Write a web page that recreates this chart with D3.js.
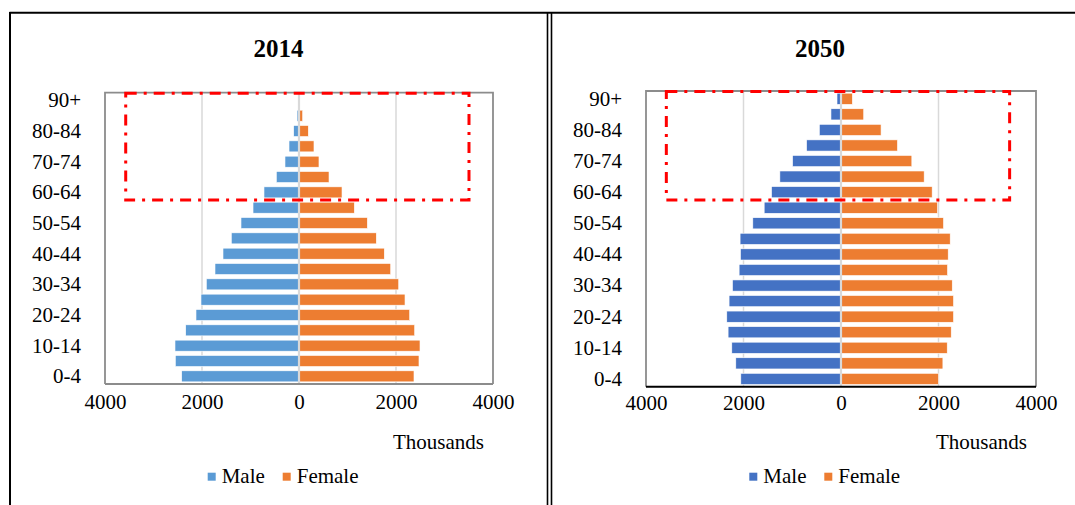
<!DOCTYPE html>
<html>
<head>
<meta charset="utf-8">
<script src="https://cdn.jsdelivr.net/npm/d3@7"></script>
<style>
  html, body { margin: 0; padding: 0; background: #fff; }
  svg { display: block; font-family: "Liberation Serif", "Times New Roman", serif; }
</style>
</head>
<body>
<svg id="chart" width="1075" height="505"></svg>
<script>
// Age groups, youngest first
const ageGroups = ["0-4","5-9","10-14","15-19","20-24","25-29","30-34","35-39","40-44",
  "45-49","50-54","55-59","60-64","65-69","70-74","75-79","80-84","85-89","90+"];

// Population in thousands
const male2014   = [2419,2550,2557,2336,2124,2021,1911,1732,1567,1396,1196,948,722,468,289,206,110,40,8];
const female2014 = [2371,2474,2495,2385,2282,2186,2056,1891,1759,1594,1409,1141,887,619,412,309,192,76,15];
const male2050   = [2055,2158,2240,2316,2343,2296,2226,2090,2062,2070,1809,1576,1425,1254,993,706,445,206,82];
const female2050 = [2000,2090,2179,2261,2308,2308,2282,2185,2199,2240,2103,1980,1870,1706,1453,1158,822,466,233];

const xTicks = [-4000, -2000, 0, 2000, 4000];
const yLabelGroups = ageGroups.filter((d, i) => i % 2 === 0);
const seriesNames = ["Male", "Female"];
const unitLabel = "Thousands";

const svg = d3.select("#chart");
const FONT = 21;
const SERIF = "Liberation Serif, Times New Roman, serif";

// Outer document frame
const frame = svg.append("g").attr("stroke", "#000").attr("fill", "none");
frame.append("line").attr("x1", 9.5).attr("x2", 1075).attr("y1", 12.8).attr("y2", 12.8).attr("stroke-width", 2);
frame.append("line").attr("x1", 10).attr("x2", 10).attr("y1", 12).attr("y2", 505).attr("stroke-width", 2);
frame.append("line").attr("x1", 547.5).attr("x2", 547.5).attr("y1", 12).attr("y2", 505).attr("stroke-width", 1.6);
frame.append("line").attr("x1", 551.5).attr("x2", 551.5).attr("y1", 12).attr("y2", 505).attr("stroke-width", 1.6);

function pyramid(cfg) {
  const g = svg.append("g");
  const x = d3.scaleLinear().domain([-4000, 4000]).range([cfg.left, cfg.right]);
  const y = d3.scaleBand().domain(ageGroups.slice().reverse()).range([cfg.top, cfg.bottom]).paddingInner(0).paddingOuter(0);
  const barH = y.bandwidth() * 0.72;
  const off = (y.bandwidth() - barH) / 2;

  // Title
  g.append("text").attr("x", cfg.titleX).attr("y", 57).attr("text-anchor", "middle")
    .attr("font-size", 25).attr("font-weight", "bold").attr("fill", "#000").text(cfg.title);

  // Vertical gridlines
  g.append("g").selectAll("line").data(xTicks.filter(t => t !== 0 && Math.abs(t) < 4000)).join("line")
    .attr("x1", d => x(d)).attr("x2", d => x(d))
    .attr("y1", cfg.top).attr("y2", cfg.bottom)
    .attr("stroke", "#d9d9d9").attr("stroke-width", 1.5);

  // Male bars (left)
  g.append("g").selectAll("rect").data(ageGroups.map((a, i) => ({a, v: cfg.male[i]}))).join("rect")
    .attr("x", d => x(-d.v)).attr("width", d => x(0) - x(-d.v))
    .attr("y", d => y(d.a) + off).attr("height", barH)
    .attr("fill", cfg.maleColor).attr("stroke", "#fff").attr("stroke-width", 0.6);

  // Female bars (right)
  g.append("g").selectAll("rect").data(ageGroups.map((a, i) => ({a, v: cfg.female[i]}))).join("rect")
    .attr("x", x(0)).attr("width", d => x(d.v) - x(0))
    .attr("y", d => y(d.a) + off).attr("height", barH)
    .attr("fill", cfg.femaleColor).attr("stroke", "#fff").attr("stroke-width", 0.6);

  // Zero line
  g.append("line").attr("x1", x(0)).attr("x2", x(0)).attr("y1", cfg.top).attr("y2", cfg.bottom)
    .attr("stroke", "#d9d9d9").attr("stroke-width", 2.2);

  // Plot area border
  const border = g.append("g").attr("fill", "none");
  border.append("path")
    .attr("d", `M${cfg.left},${cfg.bottom}V${cfg.top}H${cfg.right}V${cfg.bottom}`)
    .attr("stroke", "#8c8c8c").attr("stroke-width", 1.8);
  border.append("line").attr("x1", cfg.left).attr("x2", cfg.right)
    .attr("y1", cfg.bottom).attr("y2", cfg.bottom)
    .attr("stroke", cfg.axisColor).attr("stroke-width", cfg.axisWidth);

  // Highlighted older-age region
  const hx0 = x(cfg.box[0]), hx1 = x(cfg.box[1]);
  const hy1 = y("60-64") + y.bandwidth();
  g.append("path")
    .attr("d", `M${hx0},${cfg.top + 0.5}H${hx1}V${hy1}H${hx0}Z`)
    .attr("fill", "none").attr("stroke", "#ff0000").attr("stroke-width", 3)
    .attr("stroke-dasharray", "11,7,3,7");

  // X axis tick labels
  const xAxis = d3.axisBottom(x).tickValues(xTicks).tickSize(0).tickPadding(0)
    .tickFormat(d => String(Math.abs(d)));
  const xg = g.append("g").attr("transform", `translate(0,${cfg.tickY})`).call(xAxis);
  xg.select(".domain").remove();
  xg.selectAll("text").attr("font-size", FONT).attr("fill", "#000")
    .attr("font-family", SERIF).attr("y", 0).attr("dy", 0);

  // Y axis category labels
  const yAxis = d3.axisLeft(y).tickValues(yLabelGroups).tickSize(0).tickPadding(0);
  const yg = g.append("g").attr("transform", `translate(${cfg.left - 24},0)`).call(yAxis);
  yg.select(".domain").remove();
  yg.selectAll("text").attr("font-size", FONT).attr("fill", "#000")
    .attr("font-family", SERIF).attr("dy", "0.33em");

  // Unit label
  g.append("text").attr("x", cfg.right - 9).attr("y", 449).attr("text-anchor", "end")
    .attr("font-size", FONT).attr("fill", "#000").text(unitLabel);

  // Legend
  const lg = g.append("g").attr("transform", `translate(${cfg.legendX},0)`);
  const colors = [cfg.maleColor, cfg.femaleColor];
  seriesNames.forEach((name, i) => {
    const ox = i * 75;
    lg.append("rect").attr("x", ox).attr("y", 472.7).attr("width", 8).attr("height", 8).attr("fill", colors[i]);
    lg.append("text").attr("x", ox + 14).attr("y", 483).attr("font-size", FONT).attr("fill", "#000").text(name);
  });
}

pyramid({
  title: "2014", titleX: 278.5,
  left: 105, right: 493, top: 92.7, bottom: 384,
  male: male2014, female: female2014,
  maleColor: "#5b9bd5", femaleColor: "#ed7d31",
  axisColor: "#8c8c8c", axisWidth: 1.8,
  box: [-3573, 3505], tickY: 409, legendX: 207.7
});

pyramid({
  title: "2050", titleX: 820,
  left: 646, right: 1036, top: 91, bottom: 386.7,
  male: male2050, female: female2050,
  maleColor: "#4472c4", femaleColor: "#ed7d31",
  axisColor: "#000", axisWidth: 2,
  box: [-3583, 3459], tickY: 410, legendX: 749.3
});
</script>
</body>
</html>
